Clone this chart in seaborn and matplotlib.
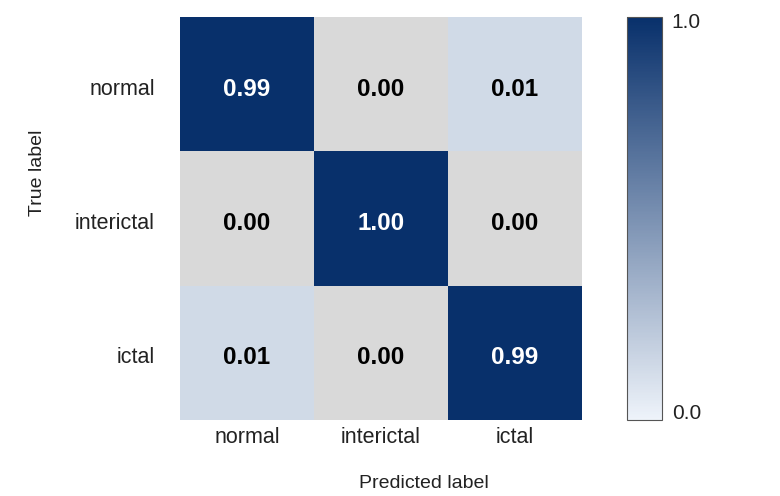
import matplotlib
matplotlib.use("Agg")
import matplotlib.pyplot as plt
import matplotlib.transforms as mtransforms
import numpy as np
import pandas as pd
import seaborn as sns
from matplotlib.colors import LinearSegmentedColormap, ListedColormap, Normalize
from matplotlib.cm import ScalarMappable

classes = ["normal", "interictal", "ictal"]
row_normal = [0.99, 0.00, 0.01]
row_interictal = [0.00, 1.00, 0.00]
row_ictal = [0.01, 0.00, 0.99]

cm = pd.DataFrame([row_normal, row_interictal, row_ictal], index=classes, columns=classes)

sns.set_style("white")
plt.rcParams["font.family"] = ["Liberation Sans", "DejaVu Sans"]

# colorbar map is linear, cells use a stretched copy so tiny values still show
base = LinearSegmentedColormap.from_list("navy", ["#eef3fa", "#08306b"])
cell_cmap = ListedColormap(base(np.linspace(0, 1, 256) ** 0.42))
cell_cmap.set_under("#d9d9d9")

fig = plt.figure(figsize=(7.8, 4.96), dpi=100)
ax = fig.add_axes([0.2308, 0.1532, 0.5154, 0.8125])
cax = fig.add_axes([0.8038, 0.1532, 0.0449, 0.8125])

sns.heatmap(
    cm,
    ax=ax,
    cmap=cell_cmap,
    vmin=0.001,
    vmax=1.0,
    annot=True,
    fmt=".2f",
    annot_kws={"size": 17.5, "weight": "bold"},
    cbar=False,
    linewidths=0,
)

# nudge text down a few pixels like the original
down = mtransforms.ScaledTranslation(0, -5 / 100, fig.dpi_scale_trans)
for t in ax.texts:
    if t.get_color() != "w":
        t.set_color("black")
    t.set_transform(t.get_transform() + down)

ax.tick_params(axis="both", length=0, labelsize=15.5, colors="#222222")
ax.tick_params(axis="y", pad=18, rotation=0)
ax.tick_params(axis="x", pad=5)
for lab in ax.get_yticklabels():
    lab.set_transform(lab.get_transform() + down)
ax.set_xlabel("Predicted label", fontsize=14, labelpad=19.5, color="#222222")
ax.set_ylabel("True label", fontsize=14, labelpad=21, color="#222222")
# axis titles sit off-centre in the original
ax.xaxis.label.set_x(0.607)
ax.yaxis.label.set_y(0.613)

cb = fig.colorbar(ScalarMappable(norm=Normalize(-0.021, 1.01), cmap=base), cax=cax, ticks=[0, 1])
cb.set_ticklabels(["0.0", "1.0"])
cb.ax.tick_params(length=0, labelsize=15, pad=7, colors="#222222")
cb.outline.set_edgecolor("#555555")
cb.outline.set_linewidth(0.8)

fig.savefig("out.png", dpi=100)
